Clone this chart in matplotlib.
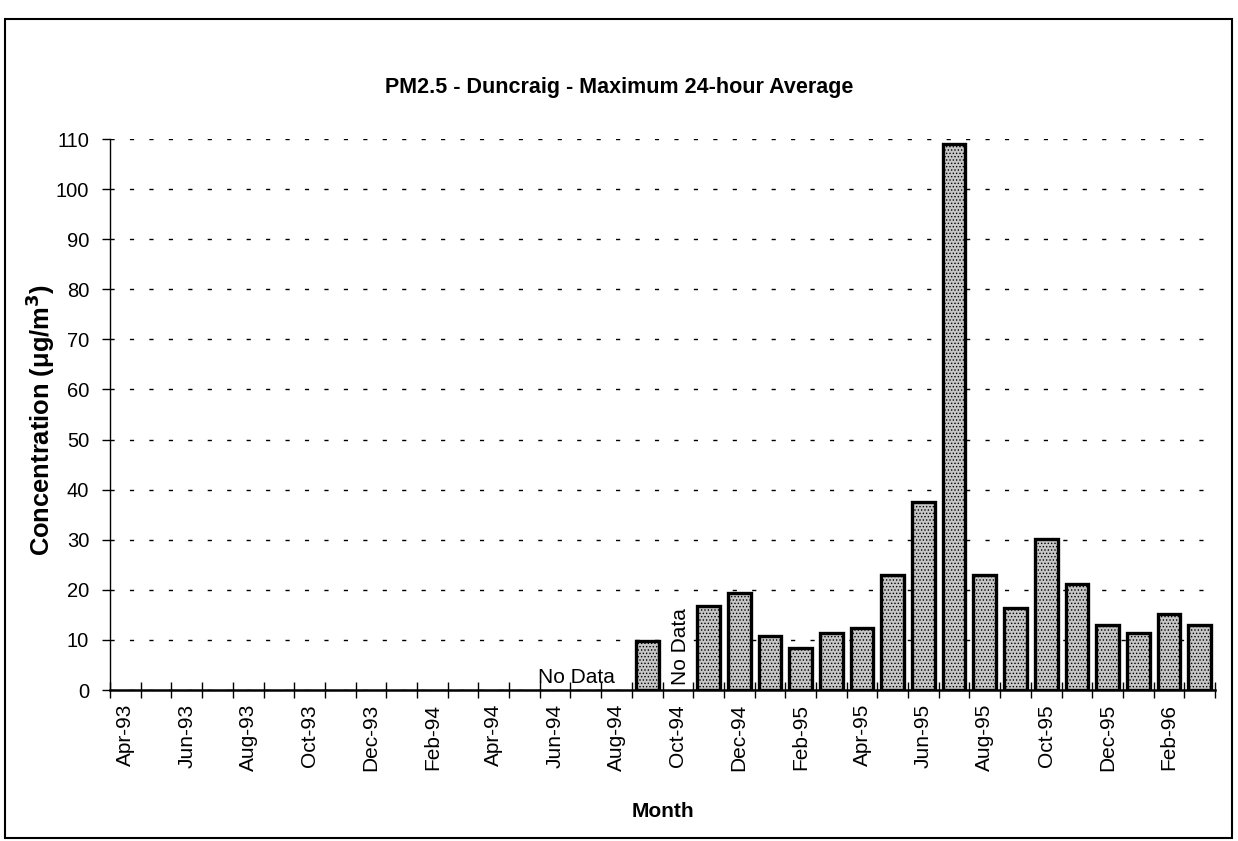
import numpy as np
import matplotlib
matplotlib.use("Agg")
from matplotlib import pyplot as plt
from matplotlib.patches import Rectangle

plt.rcParams['font.family'] = ['Liberation Sans', 'DejaVu Sans']
plt.rcParams['hatch.color'] = '#6a6a6a'
plt.rcParams['hatch.linewidth'] = 0.6

# --- data
months = ['Apr-93', 'May-93', 'Jun-93', 'Jul-93', 'Aug-93', 'Sep-93', 'Oct-93', 'Nov-93',
          'Dec-93', 'Jan-94', 'Feb-94', 'Mar-94', 'Apr-94', 'May-94', 'Jun-94', 'Jul-94',
          'Aug-94', 'Sep-94', 'Oct-94', 'Nov-94', 'Dec-94', 'Jan-95', 'Feb-95', 'Mar-95',
          'Apr-95', 'May-95', 'Jun-95', 'Jul-95', 'Aug-95', 'Sep-95', 'Oct-95', 'Nov-95',
          'Dec-95', 'Jan-96', 'Feb-96', 'Mar-96']
# NaN = no data / nothing plotted
pm25 = [np.nan] * 17 + [9.7, np.nan, 16.7, 19.4, 10.7, 8.4, 11.4, 12.3,
                        22.9, 37.5, 109.0, 23.0, 16.3, 30.2, 21.2, 13.0,
                        11.4, 15.2, 13.0]
yticks = list(range(0, 111, 10))

x = np.arange(len(months))
vals = np.array(pm25, dtype=float)
has = ~np.isnan(vals)

fig = plt.figure(figsize=(12.38, 8.41), dpi=100)
ax = fig.add_axes([0.0889, 0.1795, 0.8925, 0.6552])

ax.bar(x[has], vals[has], width=0.74, color='#c6c6c6', edgecolor='black',
       linewidth=2.4, hatch='.....', zorder=3)

ax.set_xlim(-0.5, len(months) - 0.5)
ax.set_ylim(0, 110)
ax.set_yticks(yticks)
ax.tick_params(axis='y', labelsize=14.5, direction='out', length=6, width=1, pad=9)

# tick marks between months, labels on every other month
ax.set_xticks(np.arange(len(months) + 1) - 0.5)
ax.set_xticklabels([])
ax.tick_params(axis='x', which='major', direction='inout', length=12, width=1)
ax.set_xticks(x[::2], minor=True)
ax.set_xticklabels(months[::2], minor=True, rotation=90, fontsize=15)
ax.tick_params(axis='x', which='minor', length=0, pad=10)

ax.yaxis.grid(True, color='black', linestyle=(0, (3, 11)), linewidth=1)
ax.set_axisbelow(True)
for s in ['top', 'right']:
    ax.spines[s].set_visible(False)
ax.spines['left'].set_linewidth(1)
ax.spines['bottom'].set_linewidth(1.8)

ax.text(14.7, 0.7, 'No Data', fontsize=15, ha='center', va='bottom')
ax.text(18.07, 8.6, 'No Data', fontsize=15, ha='center', va='center', rotation=90)

ax.set_ylabel('Concentration (\u03bcg/m$^\\mathbf{3}$)', fontsize=18.4, fontweight='bold')
ax.yaxis.set_label_coords(-0.048, 0.49)
ax.set_xlabel('Month', fontsize=15, fontweight='bold', labelpad=22)
fig.text(0.5, 0.896, 'PM2.5 - Duncraig - Maximum 24-hour Average', fontsize=15.5,
         fontweight='bold', ha='center', va='center')

# border round the whole chart
fig.patches.append(Rectangle((0.004, 0.004), 0.991, 0.973, transform=fig.transFigure,
                             fill=False, edgecolor='black', linewidth=1.5))

fig.savefig('out.png', dpi=100)
